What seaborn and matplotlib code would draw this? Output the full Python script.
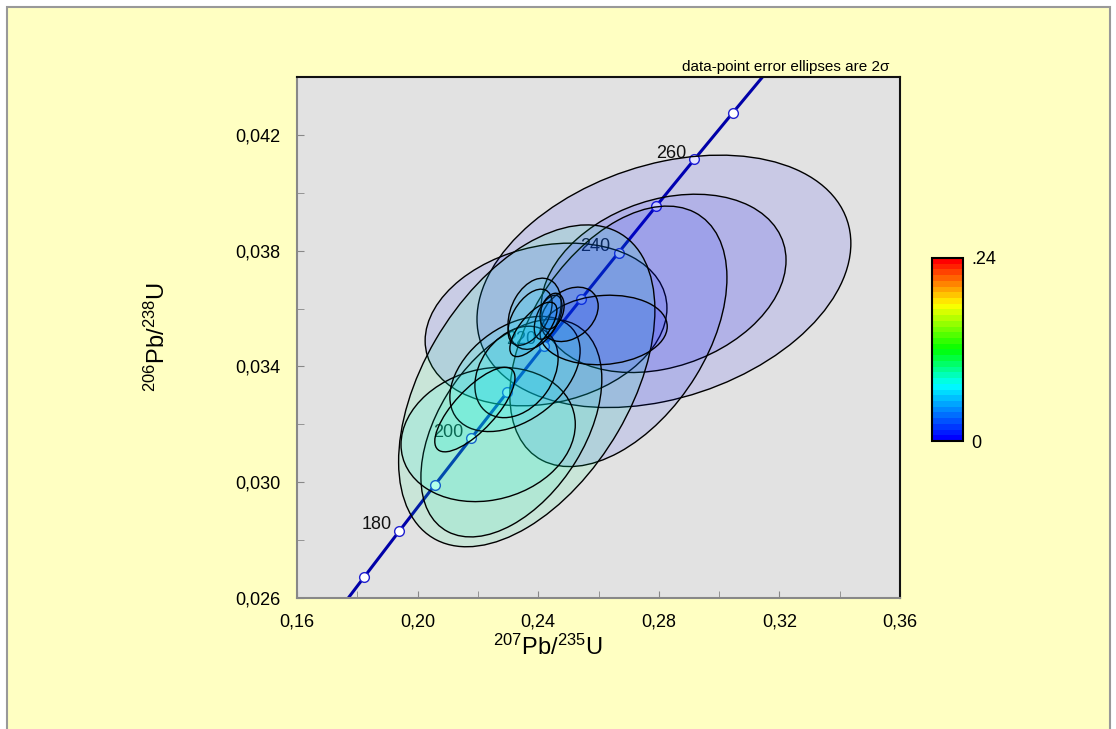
import numpy as np
import matplotlib
matplotlib.use("Agg")
import matplotlib.pyplot as plt
import seaborn as sns
from matplotlib.colors import LinearSegmentedColormap, Normalize
from matplotlib.patches import Ellipse, Rectangle
from matplotlib.cm import ScalarMappable

# Concordia ages (Ma) and ratios
ages = [160, 170, 180, 190, 200, 210, 220, 230, 240, 250, 260, 270, 280]
conc_x = [0.17068, 0.18226, 0.19396, 0.20577, 0.21771, 0.22976, 0.24193,
          0.25422, 0.26664, 0.27917, 0.29183, 0.30462, 0.31753]
conc_y = [0.025131, 0.026722, 0.028316, 0.029913, 0.031511, 0.033113, 0.034717,
          0.036323, 0.037932, 0.039543, 0.041157, 0.042773, 0.044392]
labelled_ages = [180, 200, 220, 240, 260]

# Spot analyses: 207Pb/235U, 206Pb/238U, 2-sigma errors, rho, colour value
spot_x = [0.2817, 0.2426, 0.2816, 0.2666, 0.2362, 0.2311, 0.2234, 0.2323,
          0.2328, 0.2190, 0.2617, 0.2504, 0.2388, 0.2373, 0.2433, 0.2446, 0.2384]
spot_y = [0.03694, 0.03545, 0.03687, 0.03504, 0.03333, 0.03187, 0.03165, 0.03374,
          0.03381, 0.03251, 0.03526, 0.03580, 0.03582, 0.03570, 0.03570, 0.03591, 0.03528]
err_x = [0.0620, 0.0401, 0.0406, 0.0360, 0.0425, 0.0300, 0.0289, 0.0216,
         0.0138, 0.0133, 0.0211, 0.0095, 0.0088, 0.0073, 0.0046, 0.0040, 0.0078]
err_y = [0.00436, 0.00281, 0.00308, 0.00450, 0.00556, 0.00376, 0.00232, 0.00199,
         0.00158, 0.00146, 0.00120, 0.00094, 0.00123, 0.00097, 0.00076, 0.00062, 0.00094]
spot_rho = [0.30, 0.20, 0.26, 0.45, 0.47, 0.45, 0.15, 0.40,
            0.30, 0.75, 0.10, 0.30, 0.30, 0.50, 0.50, 0.30, 0.70]
spot_val = [0.006, 0.012, 0.005, 0.010, 0.093, 0.086, 0.080, 0.070,
            0.072, 0.078, 0.012, 0.015, 0.060, 0.065, 0.040, 0.030, 0.050]

plt.rcParams["font.family"] = ["Liberation Sans", "DejaVu Sans"]
plt.rcParams["mathtext.fontset"] = "custom"
plt.rcParams["mathtext.rm"] = "Liberation Sans"
plt.rcParams["mathtext.it"] = "Liberation Sans:italic"

rainbow = LinearSegmentedColormap.from_list(
    "isoplot", [(0, "#0000ff"), (0.3, "#00ffff"), (0.5, "#00ff00"),
                (0.75, "#ffff00"), (1, "#ff0000")], N=32)
norm = Normalize(0, 0.24)

fig = plt.figure(figsize=(11.16, 7.29), dpi=100, facecolor="white")
fig.patches.append(Rectangle((7 / 1116, -0.02), 1103 / 1116, 1.02 - 7 / 729,
                             transform=fig.transFigure, facecolor="#ffffc2",
                             edgecolor="#999999", lw=1.5, zorder=-10))

ax = fig.add_axes([297 / 1116, 131 / 729, 603 / 1116, 521 / 729])
ax.set_facecolor("#e2e2e2")

# concordia curve with age markers
sns.lineplot(x=conc_x, y=conc_y, sort=False, estimator=None, ax=ax,
             color="#0000a8", lw=2.2, marker="o", markersize=7,
             markerfacecolor="white", markeredgecolor="#2020d0",
             markeredgewidth=1.0, zorder=1)
for a, cx, cy in zip(ages, conc_x, conc_y):
    if a in labelled_ages:
        ax.annotate(str(a), (cx, cy), xytext=(-8, 6), textcoords="offset pixels",
                    ha="right", va="center", fontsize=13, color="#111111", zorder=1)

# error ellipses
for x, y, ex, ey, r, v in zip(spot_x, spot_y, err_x, err_y, spot_rho, spot_val):
    cov = np.array([[ex * ex, r * ex * ey], [r * ex * ey, ey * ey]])
    vals, vecs = np.linalg.eigh(cov)
    angle = np.degrees(np.arctan2(vecs[1, 1], vecs[0, 1]))
    fc = rainbow(norm(v))
    ax.add_patch(Ellipse((x, y), 2 * np.sqrt(vals[1]), 2 * np.sqrt(vals[0]),
                         angle=angle, facecolor=(*fc[:3], 0.11),
                         edgecolor="black", lw=1.0, zorder=2))

ax.set_xlim(0.16, 0.36)
ax.set_ylim(0.026, 0.044)
ax.set_xticks(np.arange(0.16, 0.3601, 0.04))
ax.set_xticks(np.arange(0.18, 0.36, 0.04), minor=True)
ax.set_yticks(np.arange(0.026, 0.0421, 0.004))
ax.set_yticks(np.arange(0.028, 0.044, 0.004), minor=True)
ax.set_xticklabels([f"{t:.2f}".replace(".", ",") for t in np.arange(0.16, 0.3601, 0.04)])
ax.set_yticklabels([f"{t:.3f}".replace(".", ",") for t in np.arange(0.026, 0.0421, 0.004)])
ax.tick_params(which="both", direction="in", length=5, color="#888888", labelsize=13)
ax.tick_params(axis="x", which="both", pad=11)
ax.tick_params(axis="y", which="both", pad=12)
for side in ["left", "bottom"]:
    ax.spines[side].set_color("#888888")
    ax.spines[side].set_linewidth(1.5)
for side in ["top", "right"]:
    ax.spines[side].set_color("#111111")
    ax.spines[side].set_linewidth(1.5)

ax.set_xlabel(r"$^{207}$Pb/$^{235}$U", fontsize=17)
ax.set_ylabel(r"$^{206}$Pb/$^{238}$U", fontsize=17)
ax.xaxis.set_label_coords(0.416, -0.07)
ax.yaxis.set_label_coords(-0.21, 0.5)
ax.text(0.983, 1.019, "data-point error ellipses are 2σ", transform=ax.transAxes,
        ha="right", va="center", fontsize=11)

# colour scale
cax = fig.add_axes([932 / 1116, 288 / 729, 31 / 1116, 183 / 729])
cb = fig.colorbar(ScalarMappable(norm=norm, cmap=rainbow), cax=cax)
cb.set_ticks([0, 0.24])
cb.set_ticklabels(["0", ".24"])
cax.tick_params(length=0, labelsize=13, pad=6)
cb.outline.set_linewidth(1.5)
cb.outline.set_edgecolor("black")

fig.savefig("out.png", dpi=100, facecolor=fig.get_facecolor())
